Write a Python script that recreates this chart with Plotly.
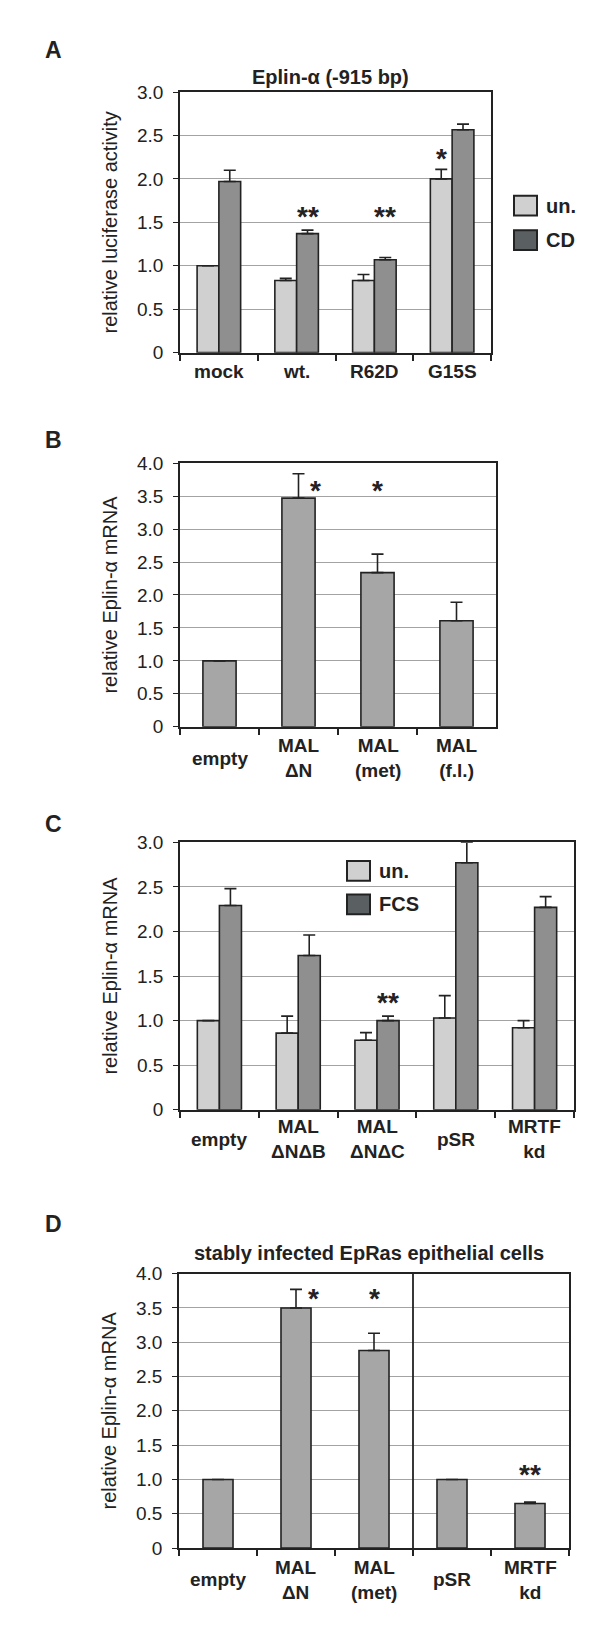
import plotly.graph_objects as go

W, H = 600, 1632

# ---------------- data ----------------
# Panel A
A_TITLE = "Eplin-α (-915 bp)"
A_CATS = ["mock", "wt.", "R62D", "G15S"]
A_UN = [1.00, 0.83, 0.83, 2.00]
A_UN_ERR = [0.0, 0.025, 0.07, 0.11]
A_CD = [1.97, 1.37, 1.07, 2.565]
A_CD_ERR = [0.13, 0.04, 0.025, 0.065]
A_SIG_CAT = ["wt.", "R62D", "G15S"]
A_SIG_SER = ["CD", "CD", "un."]
A_SIG_TXT = ["**", "**", "*"]
A_SIG_Y = [1.65, 1.65, 2.32]
A_YTITLE = "relative luciferase activity"
A_YTICKS = [0, 0.5, 1.0, 1.5, 2.0, 2.5, 3.0]
A_YTICKTEXT = ["0", "0.5", "1.0", "1.5", "2.0", "2.5", "3.0"]
A_SERIES = ["un.", "CD"]

# Panel B
B_CATS = ["empty", "MAL<br>ΔN", "MAL<br>(met)", "MAL<br>(f.l.)"]
B_VAL = [1.00, 3.47, 2.34, 1.61]
B_ERR = [0.0, 0.37, 0.28, 0.28]
B_SIG_CAT = ["MAL<br>ΔN", "MAL<br>(met)"]
B_SIG_TXT = ["*", "*"]
B_SIG_Y = [3.69, 3.69]
B_SIG_SHIFT = [0.22, 0.0]
B_YTITLE = "relative Eplin-α mRNA"
B_YTICKS = [0, 0.5, 1.0, 1.5, 2.0, 2.5, 3.0, 3.5, 4.0]
B_YTICKTEXT = ["0", "0.5", "1.0", "1.5", "2.0", "2.5", "3.0", "3.5", "4.0"]

# Panel C
C_CATS = ["empty", "MAL<br>ΔNΔB", "MAL<br>ΔNΔC", "pSR", "MRTF<br>kd"]
C_UN = [1.00, 0.86, 0.78, 1.03, 0.92]
C_UN_ERR = [0.0, 0.19, 0.085, 0.25, 0.08]
C_FCS = [2.29, 1.73, 1.00, 2.77, 2.27]
C_FCS_ERR = [0.19, 0.23, 0.05, 0.23, 0.12]
C_SIG_CAT = ["MAL<br>ΔNΔC"]
C_SIG_SER = ["FCS"]
C_SIG_TXT = ["**"]
C_SIG_Y = [1.28]
C_YTITLE = "relative Eplin-α mRNA"
C_YTICKS = A_YTICKS
C_YTICKTEXT = A_YTICKTEXT
C_SERIES = ["un.", "FCS"]

# Panel D
D_TITLE = "stably infected EpRas epithelial cells"
D_CATS = ["empty", "MAL<br>ΔN", "MAL<br>(met)", "pSR", "MRTF<br>kd"]
D_VAL = [1.00, 3.50, 2.88, 1.00, 0.65]
D_ERR = [0.0, 0.27, 0.25, 0.0, 0.02]
D_SIG_CAT = ["MAL<br>ΔN", "MAL<br>(met)", "MRTF<br>kd"]
D_SIG_TXT = ["*", "*", "**"]
D_SIG_Y = [3.74, 3.74, 1.18]
D_SIG_SHIFT = [0.22, 0.0, 0.0]
D_YTITLE = "relative Eplin-α mRNA"
D_YTICKS = B_YTICKS
D_YTICKTEXT = B_YTICKTEXT
D_SPLIT_AFTER = "MAL<br>(met)"

PANEL_LETTERS = ["A", "B", "C", "D"]

# ---------------- style ----------------
FONT = "Liberation Sans, Arial, sans-serif"
INK = "#222222"
C_LIGHT = "#d0d0d0"
C_DARK = "#8f8f8f"
C_SINGLE = "#a6a6a6"
C_LEG_DARK = "#5a6062"
GRID = "#a3a3a3"

GW = 0.28          # grouped bar width (category units)
BW_B = 0.42
BW_D = 0.385


def dom(x0, x1, y0, y1):
    return [x0 / W, x1 / W], [1 - y1 / H, 1 - y0 / H]


PANELS = {
    1: dom(172, 483, 75, 339),
    2: dom(172, 488, 451, 718),
    3: dom(172, 566, 835, 1106),
    4: dom(171, 561, 1272, 1550),
}

fig = go.Figure()


def err(arr):
    return dict(type="data", array=arr, arrayminus=[0] * len(arr), symmetric=False,
                color=INK, thickness=1.6, width=6)


def bar(cats, vals, errs, color, width, offset, n):
    return go.Bar(x=cats, y=vals, error_y=err(errs), marker=dict(color=color, line=dict(color=INK, width=1.6)),
                  width=width, offset=offset, xaxis="x" if n == 1 else f"x{n}",
                  yaxis="y" if n == 1 else f"y{n}", showlegend=False, hoverinfo="x+y")


# A
fig.add_trace(bar(A_CATS, A_UN, A_UN_ERR, C_LIGHT, GW, -GW, 1))
fig.add_trace(bar(A_CATS, A_CD, A_CD_ERR, C_DARK, GW, 0, 1))
# B
fig.add_trace(bar(B_CATS, B_VAL, B_ERR, C_SINGLE, BW_B, -BW_B / 2, 2))
# C
fig.add_trace(bar(C_CATS, C_UN, C_UN_ERR, C_LIGHT, GW, -GW, 3))
fig.add_trace(bar(C_CATS, C_FCS, C_FCS_ERR, C_DARK, GW, 0, 3))
# D
fig.add_trace(bar(D_CATS, D_VAL, D_ERR, C_SINGLE, BW_D, -BW_D / 2, 4))

layout = dict(width=W, height=H, autosize=False, margin=dict(l=0, r=0, t=0, b=0),
              paper_bgcolor="white", plot_bgcolor="white", barmode="overlay",
              font=dict(family=FONT, color=INK), showlegend=False)

specs = {1: (A_CATS, A_YTICKS, A_YTICKTEXT, A_YTITLE),
         2: (B_CATS, B_YTICKS, B_YTICKTEXT, B_YTITLE),
         3: (C_CATS, C_YTICKS, C_YTICKTEXT, C_YTITLE),
         4: (D_CATS, D_YTICKS, D_YTICKTEXT, D_YTITLE)}

for n, (cats, yt, ytt, ytitle) in specs.items():
    xd, yd = PANELS[n]
    xk = "xaxis" if n == 1 else f"xaxis{n}"
    yk = "yaxis" if n == 1 else f"yaxis{n}"
    layout[xk] = dict(domain=xd, anchor="y" if n == 1 else f"y{n}", type="category",
                      categoryorder="array", categoryarray=cats, range=[-0.5, len(cats) - 0.5],
                      showline=True, linecolor=INK, linewidth=1.8, mirror=True,
                      ticks="outside", tickson="boundaries", ticklen=6, tickwidth=1.6, tickcolor=INK,
                      showticklabels=False, showgrid=False, zeroline=False, fixedrange=True)
    layout[yk] = dict(domain=yd, anchor="x" if n == 1 else f"x{n}", range=[yt[0], yt[-1]],
                      tickvals=yt, ticktext=ytt, tickfont=dict(size=19, color=INK, family=FONT),
                      showline=True, linecolor=INK, linewidth=1.8, mirror=True,
                      ticks="outside", ticklen=5, tickwidth=1.4, tickcolor=INK, ticklabelstandoff=6,
                      showgrid=True, gridcolor=GRID, gridwidth=1, zeroline=False,
                      title=dict(text=ytitle, font=dict(size=20, color=INK, family=FONT), standoff=14),
                      fixedrange=True)

fig.update_layout(**layout)

ann = []
shapes = []

# panel letters
for letter, py in zip(PANEL_LETTERS, [32, 427, 817, 1222]):
    ann.append(dict(text=f"<b>{letter}</b>", x=45 / W, y=1 - py / H, xref="paper", yref="paper",
                    showarrow=False, xanchor="center", yanchor="middle", font=dict(size=23, color=INK)))

# titles
ann.append(dict(text=f"<b>{A_TITLE}</b>", x=322 / W, y=1 - 60 / H, xref="paper", yref="paper",
                showarrow=False, xanchor="center", yanchor="middle", font=dict(size=20, color=INK)))
ann.append(dict(text=f"<b>{D_TITLE}</b>", x=361 / W, y=1 - 1251 / H, xref="paper", yref="paper",
                showarrow=False, xanchor="center", yanchor="middle", font=dict(size=20, color=INK)))

# category labels (centered blocks below each axis)
for n, cats, py in [(1, A_CATS, 358), (2, B_CATS, 750), (3, C_CATS, 1136), (4, D_CATS, 1582)]:
    xr = "x" if n == 1 else f"x{n}"
    for i, c in enumerate(cats):
        ann.append(dict(text=f"<b>{c}</b>", x=i, y=1 - py / H, xref=xr, yref="paper", showarrow=False,
                        xanchor="center", yanchor="middle", font=dict(size=19, color=INK)))

# significance marks
def sig(n, cats, cat, y, txt, dx):
    xr = "x" if n == 1 else f"x{n}"
    yr = "y" if n == 1 else f"y{n}"
    return dict(text=f"<b>{txt}</b>", x=cats.index(cat) + dx, y=y, xref=xr, yref=yr, showarrow=False,
                xanchor="center", yanchor="middle", yshift=-7, font=dict(size=28, color=INK))

for c, s, t, y in zip(A_SIG_CAT, A_SIG_SER, A_SIG_TXT, A_SIG_Y):
    ann.append(sig(1, A_CATS, c, y, t, GW / 2 if s == A_SERIES[1] else -GW / 2))
for c, t, y, dx in zip(B_SIG_CAT, B_SIG_TXT, B_SIG_Y, B_SIG_SHIFT):
    ann.append(sig(2, B_CATS, c, y, t, dx))
for c, s, t, y in zip(C_SIG_CAT, C_SIG_SER, C_SIG_TXT, C_SIG_Y):
    ann.append(sig(3, C_CATS, c, y, t, GW / 2 if s == C_SERIES[1] else -GW / 2))
for c, t, y, dx in zip(D_SIG_CAT, D_SIG_TXT, D_SIG_Y, D_SIG_SHIFT):
    ann.append(sig(4, D_CATS, c, y, t, dx))

# manual legends
def legend(x0, ys, labels, colors):
    for yc, lab, col in zip(ys, labels, colors):
        shapes.append(dict(type="rect", xref="paper", yref="paper", x0=x0 / W, x1=(x0 + 23) / W,
                           y0=1 - (yc + 10) / H, y1=1 - (yc - 10) / H,
                           fillcolor=col, line=dict(color=INK, width=2)))
        ann.append(dict(text=f"<b>{lab}</b>", x=(x0 + 30) / W, y=1 - yc / H, xref="paper", yref="paper",
                        showarrow=False, xanchor="left", yanchor="middle", font=dict(size=20, color=INK)))

legend(506, [190, 225], A_SERIES, [C_LIGHT, C_LEG_DARK])
legend(339, [864, 898], C_SERIES, [C_LIGHT, C_LEG_DARK])

# divider in panel D
split = D_CATS.index(D_SPLIT_AFTER) + 0.5
shapes.append(dict(type="line", xref="x4", yref="y4 domain", x0=split, x1=split, y0=0, y1=1,
                   line=dict(color=INK, width=1.8)))

fig.update_layout(annotations=ann, shapes=shapes)
fig.write_html("out.html")
